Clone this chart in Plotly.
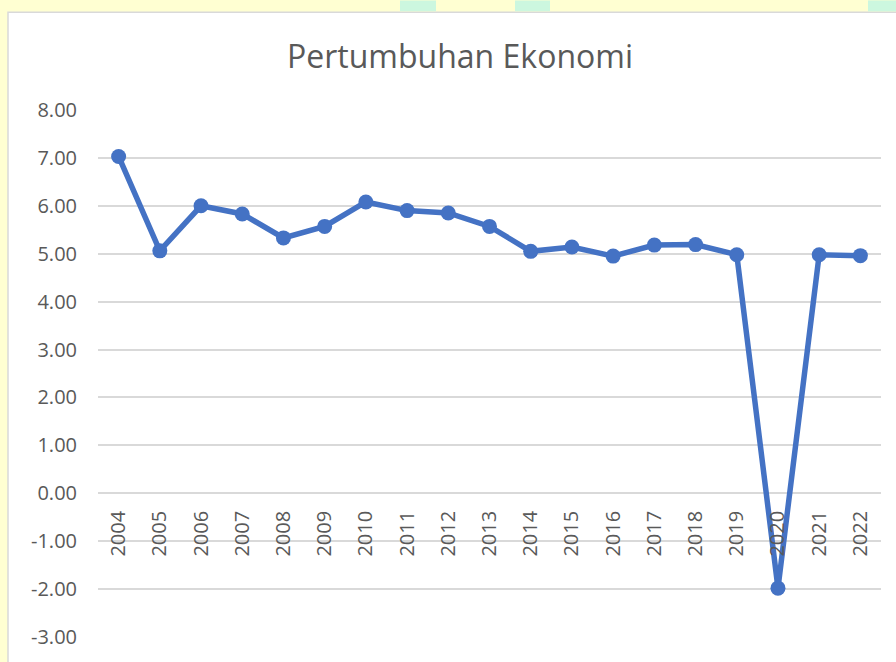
import plotly.graph_objects as go

years = [str(y) for y in range(2004, 2023)]
growth = [7.03, 5.06, 6.00, 5.83, 5.33, 5.57, 6.08, 5.90, 5.85, 5.57,
          5.05, 5.14, 4.95, 5.18, 5.19, 4.98, -1.98, 4.98, 4.96]
y_tick_values = [-3, -2, -1, 0, 1, 2, 3, 4, 5, 6, 7, 8]
y_tick_labels = ["-3.00", "-2.00", "-1.00", "0.00", "1.00", "2.00",
                 "3.00", "4.00", "5.00", "6.00", "7.00", "8.00"]
title_text = "Pertumbuhan Ekonomi"

W, H = 896, 662
ml, mr, mt, mb = 98, 15, 110, 23
pw, ph = W - ml - mr, H - mt - mb

def px_x(p):
    return (p - ml) / pw

def px_y(p):
    return (H - mb - p) / ph

fig = go.Figure()
fig.add_trace(go.Scatter(
    x=years, y=growth, mode="lines+markers",
    line=dict(color="#4472C4", width=5.5),
    marker=dict(color="#4472C4", size=15),
    hoverinfo="x+y", showlegend=False,
))

shapes = [
    dict(type="rect", xref="paper", yref="paper",
         x0=px_x(8), x1=px_x(905), y0=px_y(670), y1=px_y(12),
         fillcolor="white", line=dict(color="#D9D9D9", width=1.5), layer="below"),
]
# faint watermark patches in the background strip
for (a, b) in [(400, 436), (515, 550), (868, 896)]:
    shapes.append(dict(type="rect", xref="paper", yref="paper",
                       x0=px_x(a), x1=px_x(b), y0=px_y(11), y1=px_y(0),
                       fillcolor="#CCF7DF", line=dict(width=0), layer="below"))

fig.update_layout(
    width=W, height=H,
    margin=dict(l=ml, r=mr, t=mt, b=mb),
    paper_bgcolor="#FFFFD2",
    plot_bgcolor="rgba(0,0,0,0)",
    shapes=shapes,
    title=dict(text=title_text, x=px_x(460), xref="paper", xanchor="center",
               y=1 - 57 / H, yanchor="middle",
               font=dict(family="Open Sans", size=32, color="#595959")),
    font=dict(family="Open Sans", color="#595959"),
    xaxis=dict(type="category", range=[-0.5, 18.5], anchor="free",
               position=px_y(494.3), showline=False, showgrid=False,
               zeroline=False, ticks="", tickangle=-90,
               tickfont=dict(size=20, color="#595959"),
               ticklabelstandoff=13),
    yaxis=dict(range=[-3, 8], tickvals=y_tick_values, ticktext=y_tick_labels,
               showgrid=True, gridcolor="#D9D9D9", gridwidth=1.5,
               zeroline=True, zerolinecolor="#D9D9D9", zerolinewidth=1.5,
               showline=False, ticks="",
               tickfont=dict(size=20, color="#595959"),
               ticklabelstandoff=20),
)

fig.write_html(
    "out.html",
    config={"displayModeBar": False},
    post_script="document.body.style.margin='0';document.body.style.background='#FFFFD2';document.body.style.overflow='hidden';",
)
